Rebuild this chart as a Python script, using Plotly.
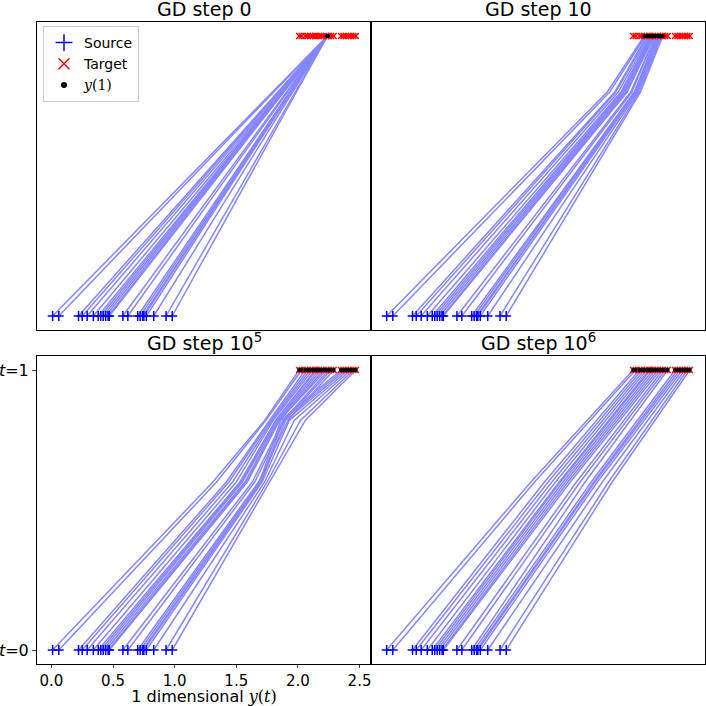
import plotly.graph_objects as go

# 1-D source samples (t=0) and target samples (t=1)
source = [0.01, 0.06, 0.22, 0.25, 0.29, 0.34, 0.38, 0.40, 0.42, 0.44, 0.46,
          0.47, 0.58, 0.62, 0.70, 0.72, 0.74, 0.75, 0.77, 0.83, 0.93, 0.98]
target = [2.01, 2.03, 2.06, 2.08, 2.10, 2.12, 2.14, 2.15, 2.17, 2.19, 2.21,
          2.23, 2.25, 2.27, 2.29, 2.35, 2.37, 2.39, 2.41, 2.43, 2.45, 2.47]

# GD step 0: all paths collapse to one point
step0_t = [0, 1]
step0_end = 2.24

# GD step 10
step10_t = [0, 0.8, 1]
step10_mid = [1.80, 1.82, 1.86, 1.87, 1.89, 1.91, 1.92, 1.93, 1.94, 1.95, 1.96,
              1.96, 1.99, 2.00, 2.02, 2.02, 2.03, 2.03, 2.04, 2.05, 2.06, 2.07]
step10_end = [2.10, 2.11, 2.12, 2.13, 2.14, 2.15, 2.15, 2.16, 2.16, 2.17, 2.17,
              2.18, 2.19, 2.19, 2.20, 2.21, 2.21, 2.22, 2.23, 2.23, 2.24, 2.25]

# GD step 1e5
step1e5_t = [0, 0.6, 0.82, 1]
step1e5_mid1 = [1.31, 1.34, 1.42, 1.44, 1.47, 1.50, 1.53, 1.54, 1.55, 1.57, 1.58,
                1.59, 1.63, 1.65, 1.68, 1.69, 1.70, 1.70, 1.71, 1.73, 1.75, 1.77]
step1e5_mid2 = [1.73, 1.74, 1.77, 1.78, 1.79, 1.80, 1.82, 1.82, 1.83, 1.84, 1.85,
                1.85, 1.88, 1.89, 1.92, 1.86, 1.88, 1.90, 1.93, 1.97, 2.02, 2.06]

# GD step 1e6
step1e6_t = [0, 0.6, 1]
step1e6_mid = [1.18, 1.21, 1.29, 1.32, 1.35, 1.38, 1.41, 1.42, 1.44, 1.46, 1.48,
               1.50, 1.55, 1.58, 1.62, 1.67, 1.69, 1.70, 1.72, 1.76, 1.81, 1.84]

titles = ["GD step 0", "GD step 10", "GD step 10<sup>5</sup>", "GD step 10<sup>6</sup>"]
x_ticks = [0.0, 0.5, 1.0, 1.5, 2.0, 2.5]

n = len(source)
panels = [
    (step0_t, [[source[i], step0_end] for i in range(n)]),
    (step10_t, [[source[i], step10_mid[i], step10_end[i]] for i in range(n)]),
    (step1e5_t, [[source[i], step1e5_mid1[i], step1e5_mid2[i], target[i]] for i in range(n)]),
    (step1e6_t, [[source[i], step1e6_mid[i], target[i]] for i in range(n)]),
]

W = 706
xdom = [[37 / W, 371 / W], [371 / W, 705 / W]]
ydom = [[1 - 330 / W, 1 - 22 / W], [1 - 664 / W, 1 - 356 / W]]

fig = go.Figure()
serif = "font-family:'DejaVu Serif', 'Liberation Serif', serif"
y1_name = f"<span style=\"{serif}\"><i>y</i>(1)</span>"

for k, (times, paths) in enumerate(panels):
    row, col = divmod(k, 2)
    xa = "x" if k == 0 else f"x{k + 1}"
    ya = "y" if k == 0 else f"y{k + 1}"
    for p in paths:
        fig.add_trace(go.Scatter(x=p, y=times, mode="lines", xaxis=xa, yaxis=ya,
                                 line=dict(color="#8686ff", width=1.5),
                                 showlegend=False, hoverinfo="skip"))
    fig.add_trace(go.Scatter(x=source, y=[0] * n, mode="markers", xaxis=xa, yaxis=ya,
                             name="Source", showlegend=False,
                             marker=dict(symbol="cross-thin", size=7, color="blue",
                                         line=dict(color="blue", width=1.5))))
    fig.add_trace(go.Scatter(x=target, y=[1] * n, mode="markers", xaxis=xa, yaxis=ya,
                             name="Target", showlegend=False,
                             marker=dict(symbol="x-thin", size=6, color="red",
                                         line=dict(color="red", width=1.5))))
    fig.add_trace(go.Scatter(x=[p[-1] for p in paths], y=[1] * n, mode="markers",
                             xaxis=xa, yaxis=ya, showlegend=False, name=y1_name,
                             marker=dict(symbol="circle", size=4, color="black")))

    bottom_left = (k == 2)
    xaxis = dict(domain=xdom[col], range=[-0.117, 2.593], anchor=ya,
                 showline=True, mirror=True, linecolor="black", linewidth=1,
                 showgrid=False, zeroline=False, fixedrange=True,
                 showticklabels=bottom_left,
                 ticks="outside" if bottom_left else "", ticklen=3,
                 tickvals=x_ticks, tickformat=".1f",
                 tickfont=dict(family="DejaVu Sans", size=15, color="black"))
    yaxis = dict(domain=ydom[row], range=[-0.05, 1.05], anchor=xa,
                 showline=True, mirror=True, linecolor="black", linewidth=1,
                 showgrid=False, zeroline=False, fixedrange=True,
                 showticklabels=bottom_left,
                 ticks="outside" if bottom_left else "", ticklen=4,
                 tickvals=[0, 1], ticktext=["<i>t</i>=0", "<i>t</i>=1"],
                 tickfont=dict(family="DejaVu Sans", size=16, color="black"))
    if bottom_left:
        xaxis["title"] = dict(text=f"1 dimensional <span style=\"{serif}\"><i>y</i>(<i>t</i>)</span>",
                              font=dict(family="DejaVu Sans", size=16, color="black"),
                              standoff=4)
    suffix = "" if k == 0 else str(k + 1)
    fig.layout["xaxis" + suffix] = xaxis
    fig.layout["yaxis" + suffix] = yaxis

    fig.add_annotation(text=titles[k], xref="paper", yref="paper",
                       x=(xdom[col][0] + xdom[col][1]) / 2, y=ydom[row][1],
                       xanchor="center", yanchor="bottom", yshift=0, showarrow=False,
                       font=dict(family="DejaVu Sans", size=19, color="black"))

# legend entries with larger symbols, like the matplotlib legend
legend_items = [
    ("Source", dict(symbol="cross-thin", size=12, color="blue", line=dict(color="blue", width=1.5))),
    ("Target", dict(symbol="x-thin", size=11, color="red", line=dict(color="red", width=1.5))),
    (y1_name, dict(symbol="circle", size=6, color="black")),
]
for name, marker in legend_items:
    fig.add_trace(go.Scatter(x=[None], y=[None], mode="markers", name=name,
                             marker=marker, xaxis="x", yaxis="y"))

fig.update_layout(
    width=W, height=W,
    margin=dict(l=0, r=0, t=0, b=0),
    paper_bgcolor="white", plot_bgcolor="white",
    legend=dict(x=43 / W, y=1 - 26 / W, xanchor="left", yanchor="top",
                bgcolor="white", bordercolor="#cccccc", borderwidth=1,
                font=dict(family="DejaVu Sans", size=14, color="black"),
                traceorder="normal", itemwidth=30, tracegroupgap=0),
)

# drop the browser's default body margin so the figure sits at (0, 0)
fig.write_html("out.html", config={"displayModeBar": False},
               post_script="document.body.style.margin='0';")
